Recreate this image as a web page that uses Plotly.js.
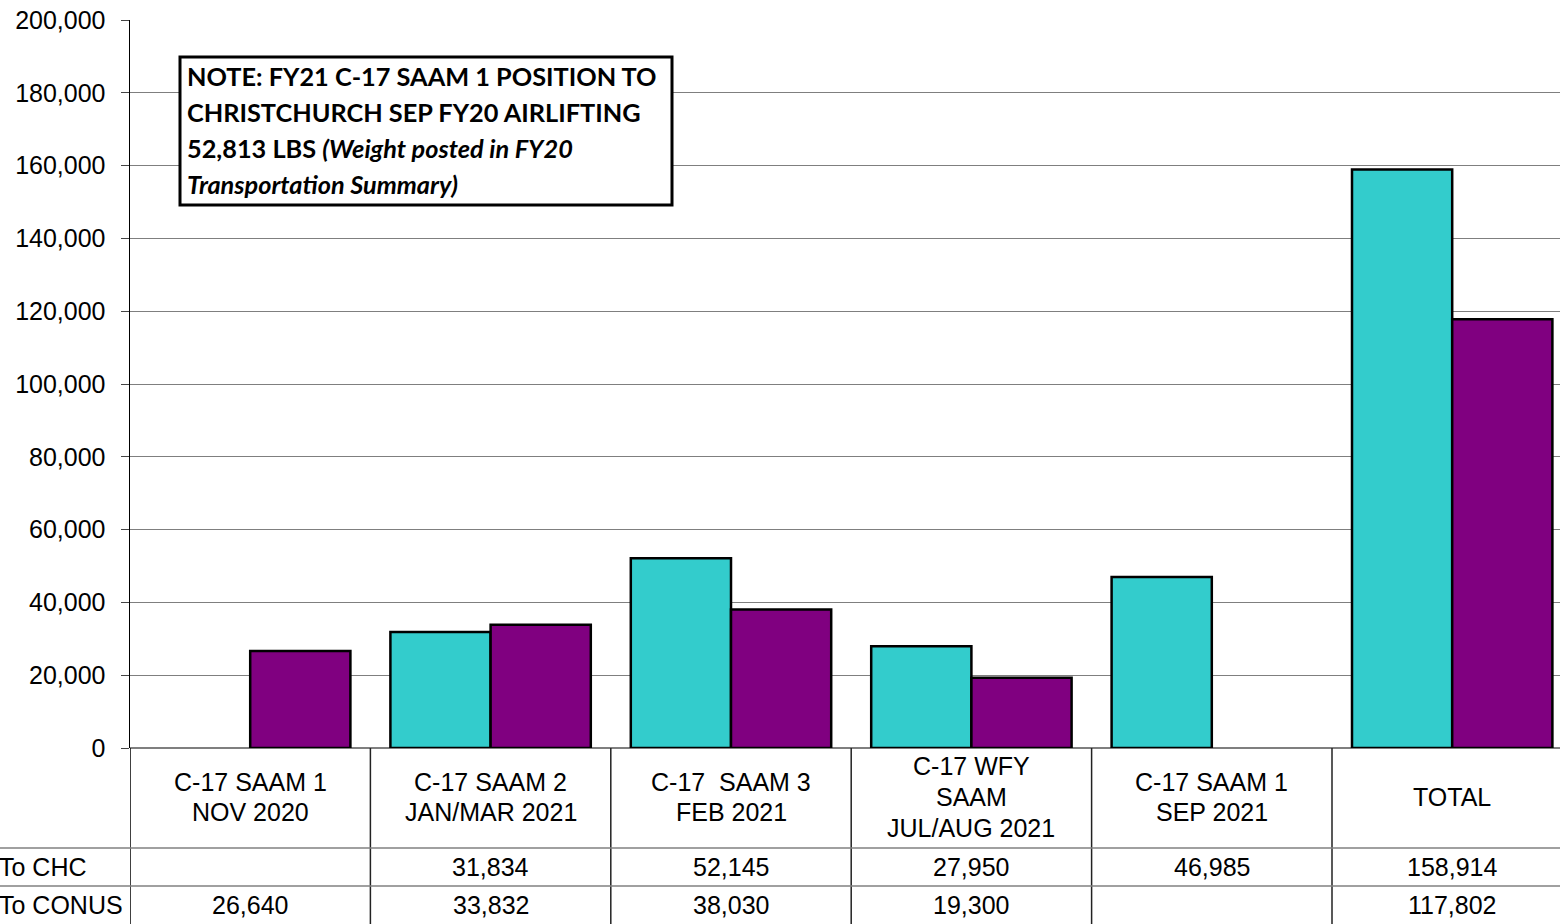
<!DOCTYPE html>
<html>
<head>
<meta charset="utf-8">
<script src="https://cdn.plot.ly/plotly-3.0.1.min.js"></script>
<style>html,body{margin:0;padding:0;background:#fff;}#chart{width:1560px;height:924px;}</style>
</head>
<body>
<div id="chart"></div>
<script>
// ---- data ----
const categoryLines = [
  ["C-17 SAAM 1", "NOV 2020"],
  ["C-17 SAAM 2", "JAN/MAR 2021"],
  ["C-17\u00a0\u00a0SAAM 3", "FEB 2021"],
  ["C-17 WFY", "SAAM", "JUL/AUG 2021"],
  ["C-17 SAAM 1", "SEP 2021"],
  ["TOTAL"]
];
const seriesNames = ["To CHC", "To CONUS"];
const toCHC = [null, 31834, 52145, 27950, 46985, 158914];
const toCONUS = [26640, 33832, 38030, 19300, null, 117802];
const yTickVals = [0, 20000, 40000, 60000, 80000, 100000, 120000, 140000, 160000, 180000, 200000];
const noteLines = [
  "<b>NOTE: FY21 C-17 SAAM 1 POSITION TO</b>",
  "<b>CHRISTCHURCH SEP FY20 AIRLIFTING</b>",
  "<b>52,813 LBS <i>(Weight posted in FY20</i></b>",
  "<b><i>Transportation Summary)</i></b>"
];

// ---- geometry helpers (layout only) ----
const W = 1560, H = 924, L = 130, R = 1560, T = 20, B = 748;
const px = x => (x - L) / (R - L);
const py = y => (B - y) / (B - T);
const categories = categoryLines.map(a => a.join(" "));
const colors = ["#33CCCC", "#800080"];
const fmt = v => (v === null || v === undefined) ? "" : v.toLocaleString("en-US");
const FONT = "Liberation Sans, Arial, sans-serif";

const traces = [toCHC, toCONUS].map((vals, i) => ({
  type: "bar",
  name: seriesNames[i],
  x: categories,
  y: vals,
  marker: {color: colors[i], line: {color: "#000", width: 2.5}},
  hoverinfo: "skip"
}));

const shapes = [];
const annotations = [];

// note box
shapes.push({type: "rect", xref: "paper", yref: "paper", x0: px(180), x1: px(672), y0: py(57), y1: py(205),
  line: {color: "#000", width: 3}, fillcolor: "#fff", layer: "above"});
noteLines.forEach((t, k) => annotations.push({
  xref: "paper", yref: "paper", x: px(185), y: py(76 + 36 * k), xanchor: "left", yanchor: "middle",
  text: t, showarrow: false, align: "left",
  font: {family: "Lato, Open Sans, sans-serif", size: 25.3, color: "#000"}
}));

// table: vertical lines
for (let i = 0; i <= categories.length; i++) {
  shapes.push({type: "line", xref: "x", yref: "paper", x0: i - 0.5, x1: i - 0.5, y0: py(748), y1: py(930),
    line: {color: i === 0 ? "#000" : "#222", width: 1.5}});
}
// table: horizontal row lines
[848, 886].forEach(yy => shapes.push({type: "line", xref: "paper", yref: "paper", x0: px(0), x1: 1, y0: py(yy), y1: py(yy),
  line: {color: "#808080", width: 1.5}}));

// category labels
categoryLines.forEach((lines, i) => {
  const n = lines.length;
  lines.forEach((ln, k) => annotations.push({
    xref: "x", yref: "paper", x: i, y: py(797 + (k - (n - 1) / 2) * 30.5), xanchor: "center", yanchor: "middle",
    text: ln, showarrow: false, font: {family: FONT, size: 25, color: "#000"}
  }));
});
// row values and labels
[toCHC, toCONUS].forEach((vals, r) => {
  const yc = r === 0 ? 867 : 905;
  annotations.push({xref: "paper", yref: "paper", x: px(-3), y: py(yc), xanchor: "left", yanchor: "middle",
    text: seriesNames[r], showarrow: false, font: {family: FONT, size: 25, color: "#000"}});
  vals.forEach((v, i) => annotations.push({
    xref: "x", yref: "paper", x: i, y: py(yc), xanchor: "center", yanchor: "middle",
    text: fmt(v), showarrow: false, font: {family: FONT, size: 25, color: "#000"}
  }));
});

const layout = {
  width: W, height: H,
  margin: {l: L, r: W - R, t: T, b: H - B, pad: 0},
  paper_bgcolor: "#fff", plot_bgcolor: "#fff",
  showlegend: false,
  barmode: "group", bargap: 40 / 240.4, bargroupgap: 0,
  xaxis: {type: "category", range: [-0.5, -0.5 + (R - L) / 240.4], showticklabels: false, ticks: "",
    showgrid: false, zeroline: false, showline: false, fixedrange: true},
  yaxis: {range: [0, 200000], tickvals: yTickVals, ticktext: yTickVals.map(fmt),
    ticks: "outside", ticklen: 8, tickcolor: "#444", tickwidth: 1,
    showline: true, linecolor: "#000", linewidth: 1.5,
    showgrid: true, gridcolor: "#7f7f7f", gridwidth: 1,
    zeroline: true, zerolinecolor: "#7f7f7f", zerolinewidth: 1.5,
    tickfont: {family: FONT, size: 25, color: "#000"}, ticklabelstandoff: 10, fixedrange: true},
  shapes: shapes,
  annotations: annotations
};

Plotly.newPlot("chart", traces, layout, {displayModeBar: false, staticPlot: true});
</script>
</body>
</html>
